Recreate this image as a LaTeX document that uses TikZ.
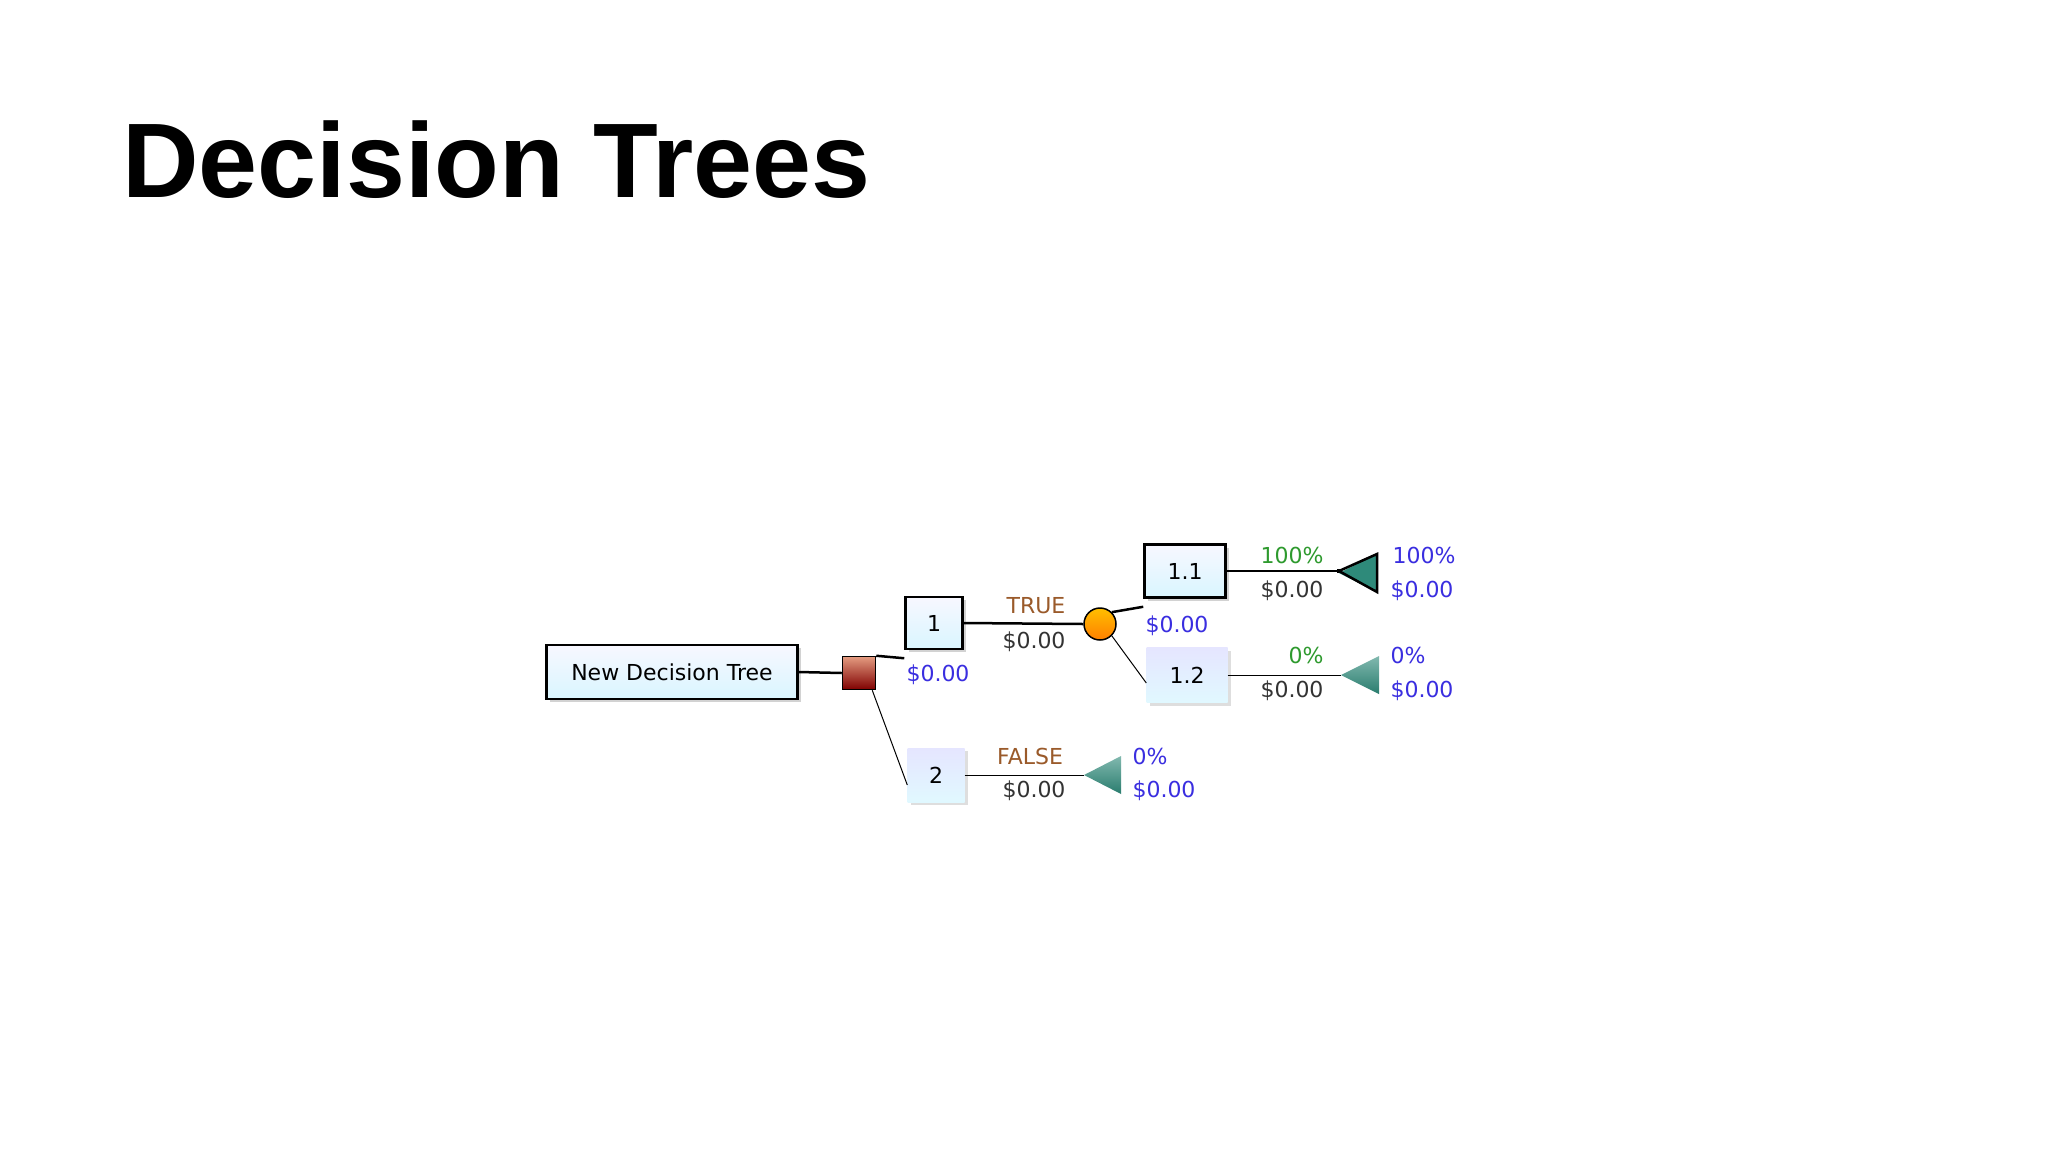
\documentclass[tikz,border=0pt]{standalone}
\usepackage{fontspec}
\setmainfont{DejaVu Sans}
\newfontfamily\titlefont{Liberation Sans}
\usetikzlibrary{shadows}
\definecolor{bblue}{HTML}{3A2EE0}
\definecolor{ggreen}{HTML}{2E9A2E}
\definecolor{brn}{HTML}{9A5A2A}
\definecolor{teal1}{HTML}{2E8A7A}
\begin{document}
\begin{tikzpicture}[x=1pt,y=-1pt,
  lbl/.style={font=\fontsize{22}{24}\selectfont,inner sep=0pt},
  nbox/.style={draw=black,line width=2.5pt,top color=white!85!blue!20,bottom color=blue!25!cyan!15,font=\fontsize{22}{24}\selectfont,inner sep=0pt,drop shadow={shadow xshift=3pt,shadow yshift=-3pt,fill=black!35}},
  sbox/.style={top color=white!90!blue,bottom color=blue!22!cyan!12,font=\fontsize{22}{24}\selectfont,inner sep=0pt,drop shadow={shadow xshift=3pt,shadow yshift=-3pt,fill=black!25}},
  thick1/.style={line width=2.5pt},
  thin1/.style={line width=1pt}]
\useasboundingbox (0,0) rectangle (2048,1152);
\fill[white] (0,0) rectangle (2048,1152);
\node[anchor=base west,inner sep=0pt,font=\titlefont\bfseries\fontsize{106}{110}\selectfont] (title) at (122,197) {Decision Trees};

\node[nbox,minimum width=251pt,minimum height=54pt] (ndt) at (672,672) {New Decision Tree};
\node[draw=black,line width=1.5pt,fill=red!55!black!75,top color=red!30!brown!60,bottom color=red!50!black,minimum size=33pt,inner sep=0pt] (dec) at (859,673) {};
\node[nbox,minimum width=57pt,minimum height=52pt] (b1) at (934,623) {1};
\node[sbox,minimum width=57pt,minimum height=54pt] (b2) at (936,775) {2};
\node[draw=black,line width=1.5pt,circle,minimum size=32pt,inner sep=0pt,top color=orange!50!yellow,bottom color=orange] (ch) at (1100,624) {};
\node[nbox,minimum width=81pt,minimum height=53pt] (b11) at (1185,571) {1.1};
\node[sbox,minimum width=81pt,minimum height=55pt] (b12) at (1187,675) {1.2};

\node[draw=black,line width=2.5pt,fill=teal1,inner sep=0pt] (t11) at (1339,571) {};
\fill[teal1] (1339,573) -- (1377,554) -- (1377,592) -- cycle;
\draw[line width=2.5pt,line join=miter] (1339,571) -- (1377,554) -- (1377,592) -- cycle;
\coordinate (t12) at (1341,675);
\shade[top color=teal1!60,bottom color=teal1!90!black] (1341,675) -- (1379,656) -- (1379,694) -- cycle;
\coordinate (t2) at (1084,775);
\shade[top color=teal1!60,bottom color=teal1!90!black] (1084,775) -- (1121,756) -- (1121,794) -- cycle;

\draw[thick1] (ndt.east) -- (dec.west);
\draw[thick1] (dec.north east) -- ([yshift=-8pt]b1.south west);
\draw[thin1] (dec.south east) ++(-4,0) -- ([yshift=-10pt]b2.west);
\draw[thick1] (b1.east) -- (ch.west);
\draw[thick1] (ch.north east) -- ([yshift=-8pt]b11.south west);
\draw[thin1] (ch.south east) -- ([yshift=-8pt]b12.west);
\draw[thick1] (b11.east) -- (t11);
\draw[thin1] (b12.east) -- (t12);
\draw[thin1] (b2.east) -- (t2);

\node[lbl,text=bblue] (v1) at (938,675) {\$0.00};
\node[lbl,text=brn] (ltrue) at (1036,606) {TRUE};
\node[lbl,text=black!80] (vtrue) at (1034,642) {\$0.00};
\node[lbl,text=bblue] (vch) at (1177,626) {\$0.00};
\node[lbl,text=ggreen] (p11) at (1292,555) {100\%};
\node[lbl,text=black!80] (c11) at (1292,591) {\$0.00};
\node[lbl,text=bblue] (q11) at (1424,555) {100\%};
\node[lbl,text=bblue] (r11) at (1422,591) {\$0.00};
\node[lbl,text=ggreen] (p12) at (1306,655) {0\%};
\node[lbl,text=black!80] (c12) at (1292,691) {\$0.00};
\node[lbl,text=bblue] (q12) at (1408,655) {0\%};
\node[lbl,text=bblue] (r12) at (1422,691) {\$0.00};
\node[lbl,text=brn] (lfalse) at (1030,756) {FALSE};
\node[lbl,text=black!80] (vfalse) at (1034,791) {\$0.00};
\node[lbl,text=bblue] (q2) at (1150,756) {0\%};
\node[lbl,text=bblue] (r2) at (1164,791) {\$0.00};
\end{tikzpicture}
\end{document}
